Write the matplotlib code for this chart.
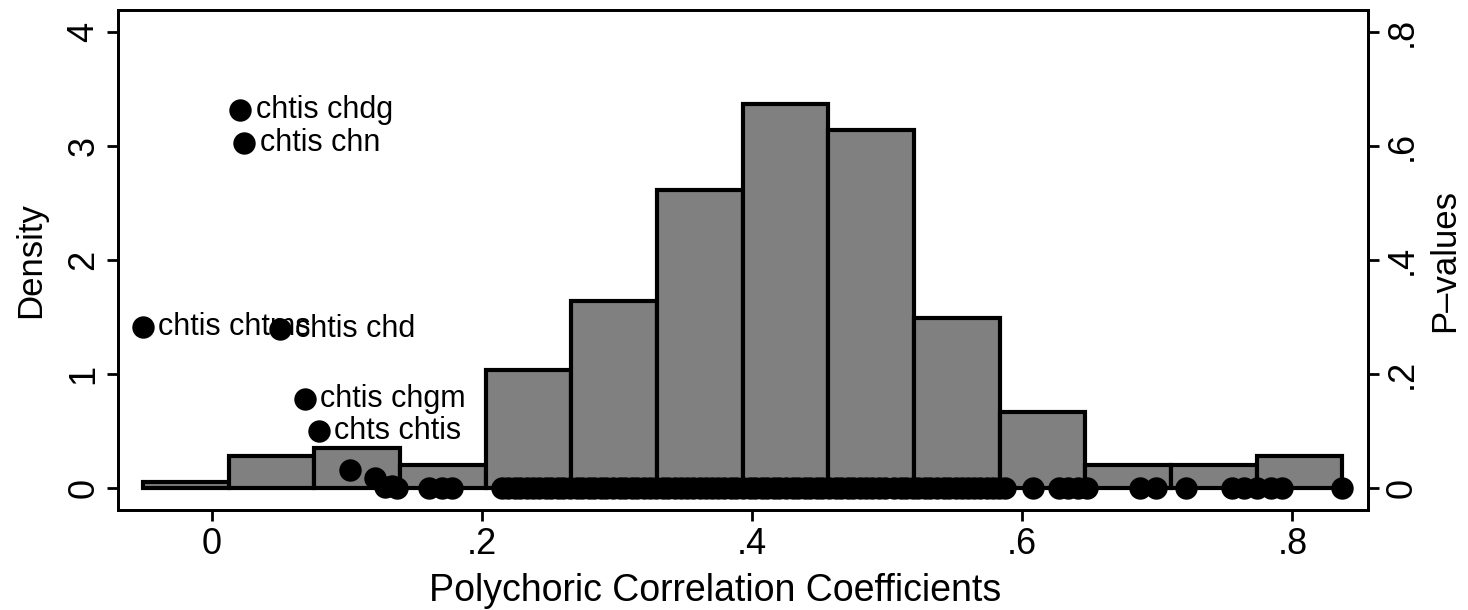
import numpy as np
import matplotlib.pyplot as plt

plt.rcParams['font.family'] = ['Liberation Sans', 'DejaVu Sans']

# histogram of the polychoric correlations (density per bin)
bin_lo, bin_hi = -0.051, 0.837
density = [0.057, 0.28, 0.35, 0.20, 1.035, 1.64, 2.61, 3.37, 3.14, 1.49, 0.67, 0.20, 0.20, 0.28]

# pairs whose p-value is large enough to be labelled
pair_names = ["chtis chdg", "chtis chn", "chtis chtms", "chtis chd", "chtis chgm", "chts chtis"]
pair_r = [0.021, 0.024, -0.051, 0.050, 0.069, 0.079]
pair_p = [0.663, 0.605, 0.282, 0.279, 0.156, 0.100]

# remaining pairs
other_r = [0.102, 0.121, 0.128, 0.133, 0.137, 0.161, 0.170, 0.178,
           0.215, 0.219, 0.224, 0.228, 0.233, 0.238, 0.242, 0.247, 0.251, 0.256,
           0.260, 0.265, 0.270, 0.274, 0.279, 0.283, 0.288, 0.292, 0.297, 0.302,
           0.306, 0.311, 0.315, 0.320, 0.324, 0.329, 0.334, 0.338, 0.343, 0.347,
           0.352, 0.356, 0.361, 0.366, 0.370, 0.375, 0.379, 0.384, 0.388, 0.393,
           0.398, 0.402, 0.407, 0.411, 0.416, 0.420, 0.425, 0.430, 0.434, 0.439,
           0.443, 0.448, 0.452, 0.457, 0.462, 0.466, 0.471, 0.475, 0.480, 0.484,
           0.489, 0.494, 0.498, 0.505, 0.510, 0.514, 0.519, 0.523, 0.528, 0.532,
           0.537, 0.542, 0.546, 0.551, 0.555, 0.560, 0.564, 0.569, 0.574, 0.578,
           0.583, 0.587,
           0.608, 0.627, 0.634, 0.641, 0.648, 0.687, 0.699, 0.721,
           0.755, 0.764, 0.774, 0.784, 0.792, 0.837]
other_p = [0.032, 0.017] + [0.001, 0.003] + [0.0] * (len(other_r) - 4)

fig = plt.figure(figsize=(14.68, 6.10), dpi=100)
ax = fig.add_axes([0.0804, 0.1639, 0.8515, 0.8197])

edges = np.linspace(bin_lo, bin_hi, len(density) + 1)
ax.bar(edges[:-1], density, width=np.diff(edges), align='edge',
       color='#808080', edgecolor='black', linewidth=3, zorder=2)

ax.set_xlim(-0.0696, 0.856)
ax.set_ylim(-0.193, 4.193)
ax.set_xticks([0, 0.2, 0.4, 0.6, 0.8])
ax.set_xticklabels(['0', '.2', '.4', '.6', '.8'])
ax.set_yticks([0, 1, 2, 3, 4])
ax.set_yticklabels(['0', '1', '2', '3', '4'], rotation=90, va='center')
ax.set_xlabel('Polychoric Correlation Coefficients', fontsize=27)
ax.xaxis.set_label_coords(0.478, -0.125, transform=ax.transAxes)
ax.set_ylabel('Density', fontsize=25, labelpad=14)

ax2 = ax.twinx()
ax2.set_ylim(-0.0386, 0.8386)
ax2.set_yticks([0, 0.2, 0.4, 0.6, 0.8])
ax2.set_yticklabels(['0', '.2', '.4', '.6', '.8'], rotation=90, va='center')
ax2.set_ylabel('P\u2013values', fontsize=25, labelpad=6)

ax2.scatter(other_r, other_p, s=260, color='black', zorder=3, linewidths=0)
ax2.scatter(pair_r, pair_p, s=260, color='black', zorder=3, linewidths=0)
for name, r, p in zip(pair_names, pair_r, pair_p):
    ax2.annotate(name, (r, p), xytext=(11, 0), textcoords='offset points',
                 va='center', ha='left', fontsize=22)

for a in (ax, ax2):
    a.tick_params(labelsize=26, width=2, length=8, pad=4)
    for sp in a.spines.values():
        sp.set_linewidth(2)

fig.savefig('out.png', dpi=100)
